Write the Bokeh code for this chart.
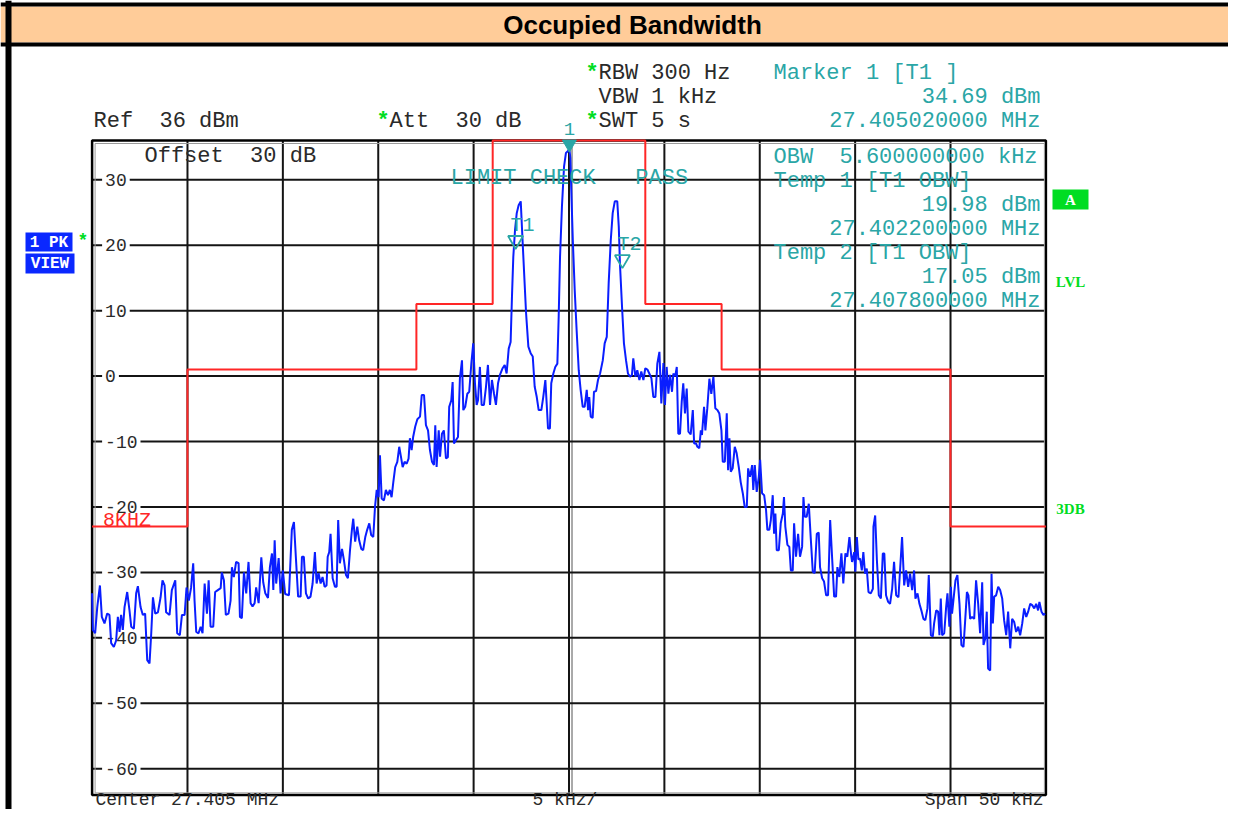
from bokeh.plotting import figure
from bokeh.models import Range1d
from bokeh.embed import file_html
from bokeh.resources import INLINE
from bokeh.core.properties import value

# ---------------- data ----------------
title = "Occupied Bandwidth"
center_mhz = 27.405
span_khz = 50
ref_level_dbm = 36
bottom_level_dbm = -64

y_ticks = [30, 20, 10, 0, -10, -20, -30, -40, -50, -60]
y_tick_labels = ["30", "20", "10", "0", "-10", "-20", "-30", "-40", "-50", "-60"]
x_grid_khz = [-20, -15, -10, -5, 0, 5, 10, 15, 20]

# limit line (step, "after"): edge frequency offsets in kHz and levels in dBm
limit_edges_khz = [-25, -20, -8, -4, 4, 8, 20, 25]
limit_levels_dbm = [-23, 1, 11, 36, 11, 1, -23, -23]

# markers: frequency (MHz) and level (dBm)
marker_names = ["1", "T1", "T2"]
marker_mhz = [27.405020, 27.402200, 27.407800]
marker_dbm = [34.69, 19.98, 17.05]

trace_khz = [
    -25.00, -24.96, -24.84, -24.73, -24.59, -24.49, -24.35, -24.21, -24.09, -24.00,
    -23.86, -23.74, -23.65, -23.56, -23.48, -23.39, -23.30, -23.16, -23.04, -22.95,
    -22.81, -22.69, -22.60, -22.46, -22.34, -22.22, -22.11, -21.99, -21.90, -21.81,
    -21.69, -21.55, -21.41, -21.31, -21.20, -21.12, -20.94, -20.82, -20.64, -20.54,
    -20.40, -20.29, -20.15, -20.05, -19.93, -19.81, -19.70, -19.63, -19.54, -19.42,
    -19.31, -19.21, -19.10, -18.98, -18.89, -18.79, -18.65, -18.55, -18.41, -18.26,
    -18.20, -18.09, -17.99, -17.85, -17.74, -17.67, -17.57, -17.45, -17.32, -17.25,
    -17.15, -17.04, -16.92, -16.80, -16.69, -16.59, -16.48, -16.40, -16.27, -16.13,
    -16.03, -15.92, -15.78, -15.68, -15.57, -15.50, -15.43, -15.35, -15.22, -15.12,
    -15.00,
    -14.88, -14.68, -14.53, -14.42, -14.32, -14.20, -14.07, -14.00, -13.90, -13.79,
    -13.67, -13.55, -13.44, -13.32, -13.23, -13.13, -13.02, -12.92, -12.81, -12.71,
    -12.65, -12.57, -12.50, -12.39, -12.27, -12.18, -12.10, -12.01, -11.90, -11.80,
    -11.69, -11.59, -11.48, -11.38, -11.31, -11.21, -11.10, -11.00, -10.89, -10.79,
    -10.68, -10.58, -10.47, -10.37, -10.26, -10.17, -10.08, -9.98, -9.91, -9.82,
    -9.70, -9.60, -9.49, -9.39, -9.30, -9.21, -9.11, -9.00, -8.90, -8.81,
    -8.72, -8.62, -8.51, -8.41, -8.34, -8.25, -8.17, -8.06, -7.95, -7.81,
    -7.72, -7.60, -7.50, -7.39, -7.29, -7.18, -7.08, -7.01, -6.94, -6.83,
    -6.76, -6.66, -6.56, -6.45, -6.35, -6.28, -6.17, -6.10, -6.03, -5.93,
    -5.82, -5.72, -5.61, -5.54, -5.44, -5.33, -5.23, -5.12, -5.02, -4.93,
    -4.84, -4.77,
    -4.67, -4.58, -4.46, -4.35, -4.25, -4.14, -4.04, -3.93, -3.83, -3.72,
    -3.62, -3.48, -3.37, -3.27, -3.16, -3.06, -2.99, -2.92, -2.83, -2.74,
    -2.64, -2.53, -2.46, -2.36, -2.25, -2.13, -2.01, -1.90, -1.80, -1.69,
    -1.59, -1.45, -1.35, -1.24, -1.17, -1.10, -1.00, -0.93, -0.82, -0.72,
    -0.61, -0.54, -0.47, -0.37, -0.26, -0.16, -0.05, 0.02, 0.07, 0.12,
    0.20, 0.30, 0.40, 0.51, 0.61, 0.72, 0.82, 0.93, 1.00, 1.06,
    1.14, 1.24, 1.31, 1.42, 1.52, 1.63, 1.77, 1.87, 1.98, 2.08,
    2.19, 2.29, 2.40, 2.53, 2.61, 2.67, 2.78, 2.88, 2.99, 3.09,
    3.20, 3.30, 3.37, 3.48, 3.58, 3.69, 3.79, 3.90, 4.00, 4.11,
    4.21, 4.32, 4.42, 4.53, 4.63, 4.74, 4.84, 4.95, 5.03, 5.12,
    5.21, 5.30, 5.40, 5.47, 5.57, 5.65, 5.73, 5.82, 5.91, 5.99,
    6.08, 6.17, 6.26, 6.38, 6.49, 6.56, 6.66, 6.73, 6.83, 6.91,
    6.97, 7.08, 7.15, 7.25, 7.36, 7.46, 7.57, 7.67, 7.78, 7.88,
    7.99, 8.06, 8.17, 8.27, 8.34, 8.41, 8.48, 8.58, 8.69, 8.79,
    8.90, 9.00, 9.11, 9.21, 9.32, 9.39, 9.49, 9.60, 9.66, 9.74,
    9.84, 9.95, 10.02, 10.12, 10.23, 10.33, 10.40, 10.50, 10.58, 10.68,
    10.75, 10.82, 10.89, 11.00, 11.10, 11.21, 11.27, 11.34, 11.45, 11.55,
    11.63, 11.73, 11.80, 11.90, 12.01, 12.11, 12.22, 12.29, 12.36, 12.46,
    12.57, 12.67, 12.78, 12.88, 12.99, 13.09, 13.16, 13.27, 13.37, 13.48,
    13.58, 13.69, 13.79, 13.90, 14.00, 14.07, 14.17, 14.28, 14.38, 14.49,
    14.59, 14.70, 14.80,
    14.84, 14.95, 15.01, 15.09, 15.17, 15.26, 15.35, 15.43, 15.52, 15.61,
    15.70, 15.82, 15.93, 15.96, 16.05, 16.14, 16.24, 16.35, 16.45, 16.53,
    16.62, 16.73, 16.83, 16.94, 17.04, 17.15, 17.27, 17.36, 17.46, 17.57,
    17.67, 17.78, 17.88, 17.99, 18.09, 18.16, 18.27, 18.37, 18.47, 18.58,
    18.68, 18.79, 18.86, 18.97, 19.07, 19.14, 19.25, 19.35, 19.42, 19.49,
    19.56, 19.67, 19.77, 19.84, 19.94, 20.02, 20.08, 20.15, 20.26, 20.36,
    20.47, 20.57, 20.68, 20.78, 20.86, 20.94, 21.03, 21.13, 21.24, 21.34,
    21.45, 21.55, 21.66, 21.73, 21.83, 21.90, 21.97, 22.08, 22.15, 22.22,
    22.29, 22.39, 22.50, 22.60, 22.71, 22.81, 22.92, 23.02, 23.13, 23.23,
    23.34, 23.44, 23.55, 23.65, 23.76, 23.86, 23.97, 24.07, 24.18, 24.28,
    24.39, 24.49, 24.59, 24.66, 24.77, 24.87, 24.96,
]

trace_dbm = [
    -33.2, -38.8, -39.3, -35.3, -32.0, -36.8, -37.8, -36.3, -36.5, -40.8,
    -41.4, -40.4, -36.8, -39.1, -36.5, -38.8, -35.3, -33.0, -35.8, -38.3,
    -38.6, -33.2, -32.1, -35.3, -36.5, -36.3, -43.4, -43.9, -39.3, -33.8,
    -36.3, -36.1, -33.8, -31.2, -32.0, -36.1, -36.5, -32.7, -31.2, -39.3,
    -39.6, -36.5, -36.5, -32.3, -34.3, -32.3, -28.6, -34.3, -39.1, -39.3,
    -38.3, -39.3, -31.7, -36.3, -31.2, -38.3, -38.3, -33.0, -32.7, -32.4,
    -30.0, -31.2, -36.5, -36.3, -34.3, -29.2, -30.7, -28.4, -28.6, -36.8,
    -37.0, -30.0, -33.2, -28.4, -34.7, -35.2, -34.7, -32.3, -34.7, -27.7,
    -31.5, -33.2, -33.9, -29.2, -27.1, -32.7, -25.1, -31.7, -27.8, -33.2,
    -29.7,
    -33.3, -33.5, -23.5, -22.3, -27.6, -33.7, -33.7, -27.6, -27.6, -33.2,
    -34.0, -33.7, -31.7, -26.9, -31.7, -30.1, -31.7, -30.7, -32.2, -32.0,
    -27.6, -26.9, -24.1, -30.9, -32.2, -32.2, -22.0, -28.6, -26.4, -28.1,
    -30.4, -30.9, -26.6, -23.5, -21.8, -25.3, -23.0, -25.1, -26.4, -26.6,
    -24.6, -23.5, -22.5, -24.3, -24.6, -20.0, -17.4, -18.5, -12.1, -18.7,
    -19.0, -17.4, -18.2, -17.4, -18.5, -16.2, -13.9, -13.1, -10.8, -12.3,
    -13.9, -13.1, -13.4, -12.6, -9.5, -11.3, -9.3, -7.7, -6.6, -6.2,
    -2.9, -2.9, -7.5, -8.3, -11.3, -13.1, -13.6, -7.5, -13.9, -8.3,
    -12.3, -8.8, -8.3, -12.6, -12.4, -4.7, -3.7, -0.9, -10.3, -9.8,
    -9.3, -0.4, 2.4, -5.2, -4.7, -2.7, -2.4, 1.9, 5.0, -1.1,
    -4.4, -3.7,
    1.4, -4.4, -4.4, -1.6, 1.7, -4.4, -0.6, -2.7, -4.4, -1.1,
    0.2, 1.2, 1.7, 0.4, 4.2, 5.2, 12.1, 18.2, 22.3, 24.9,
    26.1, 26.7, 22.3, 16.2, 9.6, 4.5, 3.5, 3.0, -1.6, -3.2,
    -5.2, -5.2, -3.2, -0.6, -4.2, -8.0, -8.0, -1.1, 0.4, 1.4,
    1.9, 9.1, 18.2, 25.9, 32.0, 34.1, 34.4, 34.69, 33.3, 28.4,
    20.8, 13.1, 7.0, 0.9, -2.1, -4.7, -4.7, -2.1, -5.2, -3.2,
    -6.2, -6.4, -2.4, -2.3, -0.6, 0.4, 2.4, 5.0, 6.0, 14.2,
    20.8, 24.9, 26.7, 26.7, 22.8, 17.2, 10.6, 5.0, 2.4, 0.4,
    -0.1, 0.2, 2.7, -0.1, 0.9, -0.6, 0.7, -0.6, 1.2, 1.0,
    0.4, -0.3, -3.2, -3.2, 1.9, 3.7, -4.2, 2.0, -4.4, 1.4,
    -2.7, 0.2, -2.4, 0.4, 0.0, 1.4, -8.8, -8.8, -3.9, -1.1,
    -5.7, -1.9, -8.5, -8.9, -5.2, -10.3, -10.3, -10.8, -11.0, -8.3,
    -9.0, -4.7, -8.3, -4.9, -0.4, -2.7, -0.1, -4.9, -5.2, -5.7,
    -8.3, -13.1, -13.1, -5.7, -14.4, -9.5, -14.6, -14.1, -10.8, -11.8,
    -13.9, -16.2, -17.9, -20.0, -20.0, -14.1, -15.4, -13.6, -17.4, -13.6,
    -17.7, -15.4, -12.8, -17.9, -18.2, -20.5, -23.5, -23.5, -22.0, -18.2,
    -24.1, -21.0, -26.6, -26.6, -22.5, -21.0, -18.5, -23.0, -25.8, -26.1,
    -29.7, -29.7, -22.5, -27.6, -24.1, -27.6, -26.1, -18.5, -21.5, -21.5,
    -19.5, -24.6, -29.9, -30.1, -24.1, -23.9, -29.2, -30.9, -31.4, -33.5,
    -33.5, -22.0, -27.6, -33.7, -33.7, -29.2, -30.7, -27.1, -31.7, -27.1,
    -27.6, -24.6, -27.6,
    -28.4, -26.9, -29.9, -24.6, -28.0, -27.9, -29.7, -26.9, -30.2, -29.4,
    -33.0, -33.2, -32.5, -23.0, -21.3, -28.1, -33.5, -34.0, -27.1, -27.1,
    -33.5, -34.5, -34.8, -32.5, -28.4, -33.5, -33.8, -29.4, -24.6, -32.0,
    -29.7, -32.2, -30.2, -32.7, -29.7, -34.0, -33.2, -34.8, -35.8, -37.1,
    -37.3, -35.5, -30.4, -39.6, -39.8, -37.8, -35.8, -36.0, -39.6, -34.0,
    -39.6, -39.3, -35.3, -33.2, -38.3, -32.2, -36.3, -34.3, -31.2, -30.4,
    -34.8, -41.1, -41.4, -36.8, -33.0, -33.5, -37.1, -36.8, -37.1, -31.2,
    -34.8, -39.3, -31.5, -41.1, -40.0, -36.0, -44.7, -45.0, -30.2, -37.8,
    -33.7, -33.5, -32.2, -32.7, -34.0, -37.3, -39.6, -36.0, -41.6, -37.1,
    -37.6, -39.1, -38.3, -39.6, -37.8, -35.5, -36.8, -36.0, -34.8, -35.0,
    -35.5, -34.8, -35.8, -34.5, -36.0, -36.5, -36.3,
]

# ---------------- geometry / styles ----------------
W, H = 1228, 809
PXK = 19.076      # px per kHz
PXD = 6.544       # px per dB
LEFT_PX = 91.6    # canvas px of the left diagram edge
TOP_PX = 140.0    # canvas px of the reference level
x_lo = -span_khz / 2 - LEFT_PX / PXK
x_hi = x_lo + W / PXK
y_hi = ref_level_dbm + TOP_PX / PXD
y_lo = y_hi - H / PXD


def X(px):
    return x_lo + px / PXK


def Y(py):
    return y_hi - py / PXD


DARK = "#2a2a2a"
TEAL = "#2aa6a6"
GREEN = "#00dd22"
BLUE_BOX = "#0a28ff"
TRACE = "#0a1eff"
RED = "#ff2626"
MONO = "Liberation Mono"
NB = "\u00a0"

p = figure(width=W, height=H, x_range=Range1d(x_lo, x_hi), y_range=Range1d(y_lo, y_hi),
           output_backend="svg", toolbar_location=None, min_border=0,
           x_axis_location=None, y_axis_location=None)
p.grid.visible = False
p.outline_line_color = None
p.background_fill_color = "white"
p.border_fill_color = "white"


def box(l, t, r, b, color):
    p.quad(left=[X(l)], right=[X(r)], top=[Y(t)], bottom=[Y(b)],
           fill_color=color, line_color=None)


def txt(s, px, py, color=DARK, size=22, align="left", bold=False, font=MONO,
        baseline="middle"):
    p.text(x=[X(px)], y=[Y(py)], text=[s.replace(" ", NB)], text_color=color,
           text_font=value(font), text_font_size=f"{size}px",
           text_align=align, text_baseline=baseline,
           text_font_style="bold" if bold else "normal")


# title band and frame of the screen
box(0, 6, 1244, 42, "#ffcc99")
box(0, 2, 1244, 6, "black")
box(0, 42, 1244, 46, "black")
box(5, 0, 11, 830, "black")
txt(title, 632, 24, color="black", size=26, align="center", bold=True,
    font="Liberation Sans")

# grid
left_k, right_k = -span_khz / 2, span_khz / 2
p.segment(x0=x_grid_khz, x1=x_grid_khz, y0=[bottom_level_dbm] * len(x_grid_khz),
          y1=[ref_level_dbm] * len(x_grid_khz), line_color="#141414", line_width=2)
p.segment(x0=[3 / PXK], x1=[3 / PXK], y0=[bottom_level_dbm], y1=[ref_level_dbm],
          line_color="#555555", line_width=1)
p.segment(x0=[left_k] * len(y_ticks), x1=[right_k] * len(y_ticks), y0=y_ticks, y1=y_ticks,
          line_color="#141414", line_width=2)

# y tick labels inside the diagram (white background hides the grid behind them)
p.text(x=[left_k] * len(y_ticks), y=y_ticks, text=y_tick_labels, x_offset=10,
       text_color=DARK, text_font=value(MONO), text_font_size="18px",
       text_align="left", text_baseline="middle",
       background_fill_color="white", padding=3)

# diagram frame
p.quad(left=[left_k], right=[right_k], top=[ref_level_dbm], bottom=[bottom_level_dbm],
       fill_color=None, line_color="black", line_width=2.5)
p.quad(left=[left_k + 3 / PXK], right=[right_k - 1.5 / PXK],
       top=[ref_level_dbm - 3 / PXD], bottom=[bottom_level_dbm + 2 / PXD],
       fill_color=None, line_color="#9a9a9a", line_width=1)

# limit line
p.step(x=limit_edges_khz, y=limit_levels_dbm, mode="after", line_color=RED, line_width=2)
p.text(x=[left_k], y=[limit_levels_dbm[0] + 6 / PXD], text=["8KHZ"], x_offset=11,
       text_color=RED, text_font=value(MONO), text_font_size="20px",
       text_align="left", text_baseline="alphabetic")

# trace
p.line(trace_khz, trace_dbm, line_color=TRACE, line_width=2)

# markers
mk_khz = [(m - center_mhz) * 1000 for m in marker_mhz]
mk_y = [d + 5 / PXD for d in marker_dbm]
p.scatter(x=mk_khz[:1], y=mk_y[:1], marker="inverted_triangle", size=14,
          fill_color=TEAL, line_color=TEAL)
p.scatter(x=mk_khz[1:], y=mk_y[1:], marker="inverted_triangle", size=15,
          fill_color=None, line_color=TEAL, line_width=1.8)
p.text(x=mk_khz[1:], y=[d + 20 / PXD for d in marker_dbm[1:]], text=marker_names[1:],
       x_offset=7, text_color=TEAL, text_font=value(MONO), text_font_size="20px",
       text_align="center", text_baseline="middle")
p.text(x=mk_khz[:1], y=[Y(128)], text=marker_names[:1],
       text_color=TEAL, text_font=value(MONO), text_font_size="19px",
       text_align="center", text_baseline="middle")

# header texts
txt("*", 585, 73, color=GREEN, bold=True)
txt("RBW 300 Hz", 598, 73)
txt("VBW 1 kHz", 598, 97)
txt("*", 585, 121, color=GREEN, bold=True)
txt("SWT 5 s", 598, 121)
txt("*", 376, 121, color=GREEN, bold=True)
txt("Att  30 dB", 389, 121)
txt("Ref  36 dBm", 93, 121)
txt("Marker 1 [T1 ]", 773, 73, color=TEAL)
txt(f"{marker_dbm[0]:.2f} dBm", 1040, 97, color=TEAL, align="right")
txt(f"{marker_mhz[0]:.9f} MHz", 1040, 121, color=TEAL, align="right")

# in-diagram texts
txt("Offset  30 dB", 144, 156)
txt("LIMIT CHECK   PASS", 450, 178, color=TEAL)
txt("OBW  5.600000000 kHz", 773, 157, color=TEAL)
txt("Temp 1 [T1 OBW]", 773, 181, color=TEAL)
txt(f"{marker_dbm[1]:.2f} dBm", 1040, 205, color=TEAL, align="right")
txt(f"{marker_mhz[1]:.9f} MHz", 1040, 229, color=TEAL, align="right")
txt("Temp 2 [T1 OBW]", 773, 253, color=TEAL)
txt(f"{marker_dbm[2]:.2f} dBm", 1040, 277, color=TEAL, align="right")
txt(f"{marker_mhz[2]:.9f} MHz", 1040, 301, color=TEAL, align="right")

# left side trace info boxes
box(25, 232, 72, 251, BLUE_BOX)
box(25, 253, 74, 273, BLUE_BOX)
txt("1 PK", 48.5, 242, color="white", size=16, align="center", bold=True)
txt("VIEW", 49.5, 263, color="white", size=16, align="center", bold=True)
txt("*", 77, 240, color=GREEN, size=18, bold=True)

# right side indicators
box(1052, 189, 1088, 209, GREEN)
txt("A", 1070, 199.5, color="white", size=15, align="center", bold=True, font="Liberation Serif")
txt("LVL", 1070, 281, color=GREEN, size=15, align="center", bold=True, font="Liberation Serif")
txt("3DB", 1070, 508, color=GREEN, size=15, align="center", bold=True, font="Liberation Serif")

# bottom texts (the canvas ends at 809 px, so they sit on its bottom edge)
txt(f"Center {center_mhz:.3f} MHz", 95, H, size=18, baseline="bottom")
txt(f"{span_khz // 10} kHz/", 532, H, size=18, baseline="bottom")
txt(f"Span {span_khz} kHz", 1043, H, size=18, align="right", baseline="bottom")

open("out.html", "w").write(file_html(p, INLINE))
